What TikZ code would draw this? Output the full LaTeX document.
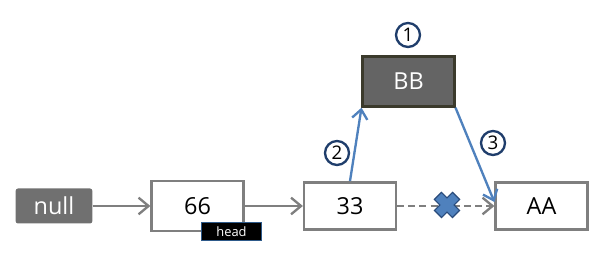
\documentclass[tikz,border=0pt]{standalone}
\usepackage{fontspec}
\setmainfont{Open Sans}
\usepackage{tikz}
\usetikzlibrary{arrows.meta}
\usepackage{xcolor}
\definecolor{BoxGray}{HTML}{7F7F7F}
\definecolor{NullGray}{HTML}{707070}
\definecolor{NewGray}{HTML}{646464}
\definecolor{NewEdge}{HTML}{3B3A2C}
\definecolor{LinkBlue}{HTML}{4F81BD}
\definecolor{StepNavy}{HTML}{1F3D6B}
\definecolor{HeadEdge}{HTML}{2E5A8A}

\begin{document}
\begin{tikzpicture}[x=0.03cm, y=0.03cm,
    elem/.style={draw=BoxGray, line width=2.2pt, fill=white, minimum width=2.75cm,
                 minimum height=1.5cm, font=\fontsize{20}{24}\selectfont},
    link/.style={draw=BoxGray, line width=2pt, -{Straight Barb[length=3mm,width=5mm]}},
    move/.style={draw=LinkBlue, line width=2pt, -{Straight Barb[length=2.8mm,width=4.6mm]}},
    stepno/.style={circle, draw=StepNavy, line width=2pt, fill=white, inner sep=0pt,
                   minimum size=0.72cm, font=\fontsize{16}{18}\selectfont}
  ]
    \useasboundingbox (0,0) rectangle (606,256);

    % list nodes
    \node[fill=NullGray, text=white, rounded corners=2pt, minimum width=2.3cm, minimum height=1.05cm,
          font=\fontsize{20}{24}\selectfont] (null) at (54,50) {null};
    \node[elem] (n66) at (197.5,50) {66};
    \node[elem, minimum height=1.42cm] (n33) at (350,50) {33};
    \node[elem, minimum height=1.42cm] (aa) at (541.5,50) {AA};
    \node[fill=NewGray, draw=NewEdge, line width=2pt, text=white, minimum width=2.75cm,
          minimum height=1.5cm, font=\fontsize{20}{24}\selectfont] (bb) at (408.5,174.5) {BB};
    \node[fill=black, draw=HeadEdge, line width=1.2pt, text=white, minimum width=1.8cm,
          minimum height=0.55cm, inner sep=0pt, font=\fontsize{11}{12}\selectfont] (head) at (231.5,24.5) {head};

    % links
    \draw[link] (null) -- (n66);
    \draw[link] (n66) -- (n33);
    \draw[link, dashed, dash pattern=on 6pt off 3.5pt] (n33) -- (aa);
    \draw[move] (n33.north) -- (bb.south west);
    \draw[move] (bb.south east) -- ([yshift=0.12cm]aa.west);

    % broken link
    \coordinate (cut) at (447,51);
    \draw[StepNavy!80!LinkBlue, line width=9.5pt] ([shift={(-9.5,-9.5)}]cut) -- ([shift={(9.5,9.5)}]cut);
    \draw[StepNavy!80!LinkBlue, line width=9.5pt] ([shift={(-9.5,9.5)}]cut) -- ([shift={(9.5,-9.5)}]cut);
    \draw[LinkBlue, line width=7.5pt] ([shift={(-8.5,-8.5)}]cut) -- ([shift={(8.5,8.5)}]cut);
    \draw[LinkBlue, line width=7.5pt] ([shift={(-8.5,8.5)}]cut) -- ([shift={(8.5,-8.5)}]cut);

    % steps
    \node[stepno] (s1) at (408,221) {1};
    \node[stepno] (s2) at (337,103) {2};
    \node[stepno] (s3) at (493,113) {3};
  \end{tikzpicture}
\end{document}
